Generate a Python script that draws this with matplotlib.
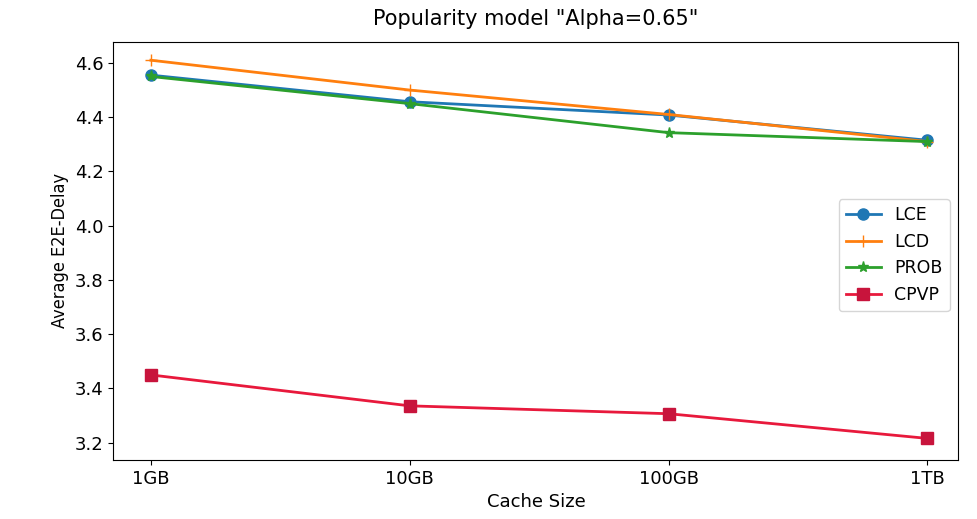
import matplotlib
matplotlib.use("Agg")
import matplotlib.pyplot as plt

categories = ["1GB", "10GB", "100GB", "1TB"]
lce = [4.555, 4.457, 4.408, 4.315]
lcd = [4.61, 4.50, 4.41, 4.31]
prob = [4.55, 4.45, 4.343, 4.31]
cpvp = [3.45, 3.336, 3.307, 3.216]

fig = plt.figure(figsize=(9.77, 5.19), dpi=100)
ax = fig.add_axes([0.116, 0.114, 0.865, 0.805])
x = range(len(categories))
ax.plot(x, lce, marker="o", color="#1f77b4", markersize=8, linewidth=2, label="LCE")
ax.plot(x, lcd, marker="+", color="#ff7f0e", markersize=9, linewidth=2, label="LCD")
ax.plot(x, prob, marker="*", color="#2ca02c", markersize=8, linewidth=2, label="PROB")
ax.plot(x, cpvp, marker="s", color="#e8193c", markerfacecolor="#c8143c", markeredgecolor="#c8143c",
        markersize=8, linewidth=2, label="CPVP")
ax.set_xticks(list(x))
ax.set_xticklabels(categories)
ax.set_yticks([3.2, 3.4, 3.6, 3.8, 4.0, 4.2, 4.4, 4.6])
ax.set_ylim(3.137, 4.677)
ax.set_xlim(-0.145, 3.12)
ax.tick_params(labelsize=13)
ax.set_xlabel("Cache Size", fontsize=13)
ax.set_ylabel("Average E2E-Delay", fontsize=13, fontstretch="condensed")
ax.set_title('Popularity model "Alpha=0.65"', fontsize=15, pad=12)
ax.legend(loc="center right", fontsize=12.5, bbox_to_anchor=(1.0, 0.49))
fig.savefig("out.png", dpi=100)
